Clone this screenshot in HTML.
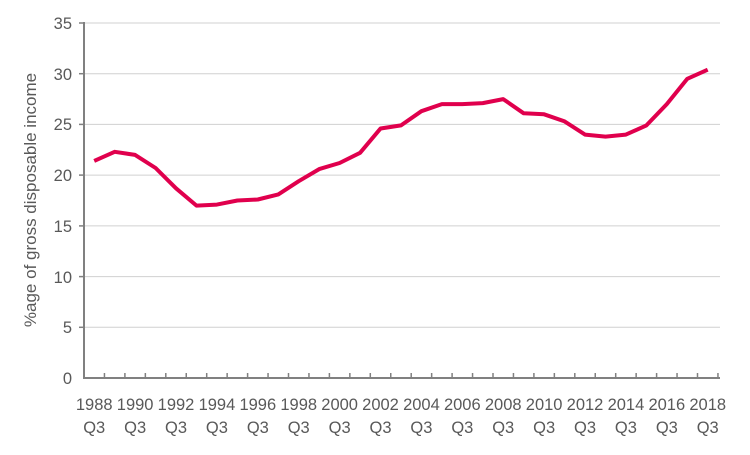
<!DOCTYPE html>
<html><head><style>body{margin:0;background:#fff}</style></head><body>
<svg width="750" height="450" xmlns="http://www.w3.org/2000/svg" font-family="Liberation Sans, sans-serif" fill="#595959">
<g stroke="#d0d0d0" stroke-width="1">
<line x1="84" x2="720" y1="327.3" y2="327.3"/><line x1="84" x2="720" y1="276.6" y2="276.6"/>
<line x1="84" x2="720" y1="225.9" y2="225.9"/><line x1="84" x2="720" y1="175.1" y2="175.1"/>
<line x1="84" x2="720" y1="124.4" y2="124.4"/><line x1="84" x2="720" y1="73.7" y2="73.7"/>
<line x1="84" x2="720" y1="23" y2="23"/>
</g>
<g stroke="#808080" stroke-width="2"><line x1="84" y1="22" x2="84" y2="378"/><line x1="83" y1="378" x2="720" y2="378"/></g>
<g stroke="#808080" stroke-width="1.5" id="t"></g>
<g font-size="16.5" text-anchor="end">
<text x="72" y="384">0</text><text x="72" y="333">5</text><text x="72" y="283">10</text><text x="72" y="232">15</text><text x="72" y="181">20</text><text x="72" y="130">25</text><text x="72" y="80">30</text><text x="72" y="29">35</text>
</g>
<g stroke="#808080" stroke-width="1.5">
<line x1="79" x2="84" y1="327.3" y2="327.3"/><line x1="79" x2="84" y1="276.6" y2="276.6"/><line x1="79" x2="84" y1="225.9" y2="225.9"/><line x1="79" x2="84" y1="175.1" y2="175.1"/><line x1="79" x2="84" y1="124.4" y2="124.4"/><line x1="79" x2="84" y1="73.7" y2="73.7"/><line x1="79" x2="84" y1="23" y2="23"/>
</g>
<text transform="translate(36,200) rotate(-90)" font-size="17" text-anchor="middle">%age of gross disposable income</text>
<g id="xl" font-size="16.5" text-anchor="middle"></g>
<polyline id="ln" fill="none" stroke="#e0004d" stroke-width="4" stroke-linejoin="round" points=""/>
<script>
var d=[21.4,22.3,22.0,20.7,18.7,17.0,17.1,17.5,17.6,18.1,19.4,20.6,21.2,22.2,24.6,24.9,26.3,27.0,27.0,27.1,27.5,26.1,26.0,25.3,24.0,23.8,24.0,24.9,27.0,29.5,30.4];
var s=20.45,x0=84,p=[],ns="http://www.w3.org/2000/svg";
for(var i=0;i<31;i++){p.push((x0+s*(i+0.5)).toFixed(1)+","+(378-d[i]*10.143).toFixed(1));}
document.getElementById("ln").setAttribute("points",p.join(" "));
var t=document.getElementById("t");
for(var i=1;i<=31;i++){var l=document.createElementNS(ns,"line");var x=x0+s*i;l.setAttribute("x1",x);l.setAttribute("x2",x);l.setAttribute("y1",373);l.setAttribute("y2",378);t.appendChild(l);}
var g=document.getElementById("xl");
for(var i=0;i<31;i+=2){var x=x0+s*(i+0.5);var a=document.createElementNS(ns,"text");a.setAttribute("x",x);a.setAttribute("y",410);a.textContent=1988+i;g.appendChild(a);var b=document.createElementNS(ns,"text");b.setAttribute("x",x);b.setAttribute("y",433);b.textContent="Q3";g.appendChild(b);}
</script>
</svg>
</body></html>
